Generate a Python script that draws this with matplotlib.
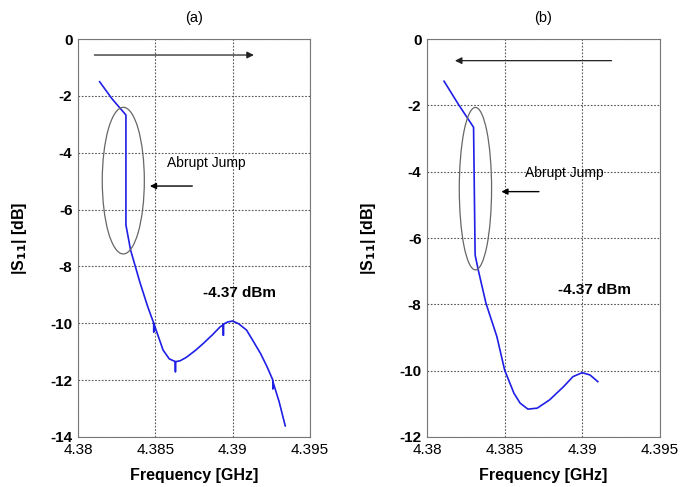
import matplotlib; matplotlib.use('Agg')
import matplotlib.pyplot as plt
from matplotlib.patches import Ellipse

plt.rcParams['font.family'] = ['Liberation Sans', 'DejaVu Sans']

# sweep up (a)
freq_a = [4.3814, 4.3822, 4.3831, 4.3831, 4.3834, 4.3840, 4.3845, 4.3849, 4.3849, 4.3849,
          4.3855, 4.3859, 4.3863, 4.3863, 4.3863, 4.3866, 4.3870, 4.3876, 4.3881, 4.3887,
          4.3892, 4.3894, 4.3894, 4.3894, 4.3897, 4.3900, 4.3904, 4.3909, 4.3913, 4.3918,
          4.3922, 4.3926, 4.3926, 4.3926, 4.3930, 4.3934]
s11_a = [-1.50, -2.10, -2.67, -6.54, -7.42, -8.55, -9.40, -10.00, -10.30, -10.00,
         -10.94, -11.25, -11.35, -11.70, -11.35, -11.32, -11.20, -10.95, -10.71, -10.40,
         -10.12, -10.05, -10.42, -10.03, -9.95, -9.92, -10.02, -10.24, -10.60, -11.06,
         -11.50, -12.00, -12.30, -12.05, -12.75, -13.61]

# sweep down (b)
freq_b = [4.3811, 4.3820, 4.3830, 4.3831, 4.3833, 4.3838, 4.3845, 4.3850, 4.3856, 4.3860,
          4.3865, 4.3871, 4.3879, 4.3888, 4.3894, 4.3900, 4.3905, 4.3910]
s11_b = [-1.27, -1.95, -2.66, -6.51, -6.96, -7.97, -8.97, -9.98, -10.68, -10.98,
         -11.16, -11.13, -10.88, -10.48, -10.18, -10.06, -10.13, -10.33]

XTICKS = [4.38, 4.385, 4.39, 4.395]
XTICKLABELS = ['4.38', '4.385', '4.39', '4.395']

fig = plt.figure(figsize=(6.81, 4.87), dpi=100)
ax_a = fig.add_axes([0.1145, 0.1027, 0.3407, 0.817])
ax_b = fig.add_axes([0.627, 0.1027, 0.342, 0.817])

panels = [
    (ax_a, freq_a, s11_a, -14, [0, -2, -4, -6, -8, -10, -12, -14], '(a)',
     dict(ell=(4.38293, -4.98, 0.00272, 5.16),
          big=((4.38106, -0.56), (4.39137, -0.56)),
          small=((4.38739, -5.17), (4.38465, -5.17)),
          jump=(4.38573, -4.37), dbm=(4.38806, -8.95))),
    (ax_b, freq_b, s11_b, -12, [0, -2, -4, -6, -8, -10, -12], '(b)',
     dict(ell=(4.38312, -4.51, 0.00208, 4.9),
          big=((4.39189, -0.65), (4.38180, -0.65)),
          small=((4.38721, -4.60), (4.38479, -4.60)),
          jump=(4.38631, -4.05), dbm=(4.38845, -7.57))),
]

for ax, f, s, ymin, yticks, title, ann in panels:
    ax.plot(f, s, color='#1f1fe6', lw=1.2)
    ax.set_xlim(4.38, 4.395)
    ax.set_ylim(ymin, 0)
    ax.set_xticks(XTICKS)
    ax.set_xticklabels(XTICKLABELS, fontsize=11)
    ax.set_yticks(yticks)
    ax.set_yticklabels([str(v) for v in yticks], fontsize=11, fontweight='bold')
    ax.tick_params(length=0, pad=4)
    ax.grid(True, color='#555555', ls=(0, (1.5, 1.5)), lw=0.8)
    for sp in ax.spines.values():
        sp.set_color('#777777')
    ax.set_xlabel('Frequency [GHz]', fontsize=11.5, fontweight='bold', labelpad=8)
    ax.set_ylabel('|S$_{\\mathbf{11}}$| [dB]', fontsize=11.5, fontweight='bold', labelpad=15)
    ax.set_title(title, fontsize=10.5, pad=12)

    cx, cy, w, h = ann['ell']
    ax.add_patch(Ellipse((cx, cy), w, h, fill=False, ec='#666666', lw=0.9, zorder=3))
    (x0, y0), (x1, y1) = ann['big']
    ax.annotate('', xy=(x1, y1), xytext=(x0, y0),
                arrowprops=dict(arrowstyle='-|>', color='#222222', lw=0.9,
                                mutation_scale=10, shrinkA=0, shrinkB=0))
    (x0, y0), (x1, y1) = ann['small']
    ax.annotate('', xy=(x1, y1), xytext=(x0, y0),
                arrowprops=dict(arrowstyle='-|>', color='black', lw=1.0,
                                mutation_scale=9, shrinkA=0, shrinkB=0))
    jx, jy = ann['jump']
    ax.text(jx, jy, 'Abrupt Jump', fontsize=10, va='center', ha='left')
    dx, dy = ann['dbm']
    ax.text(dx, dy, '-4.37 dBm', fontsize=11, fontweight='bold', va='center', ha='left')

fig.savefig('out.png', dpi=100)
